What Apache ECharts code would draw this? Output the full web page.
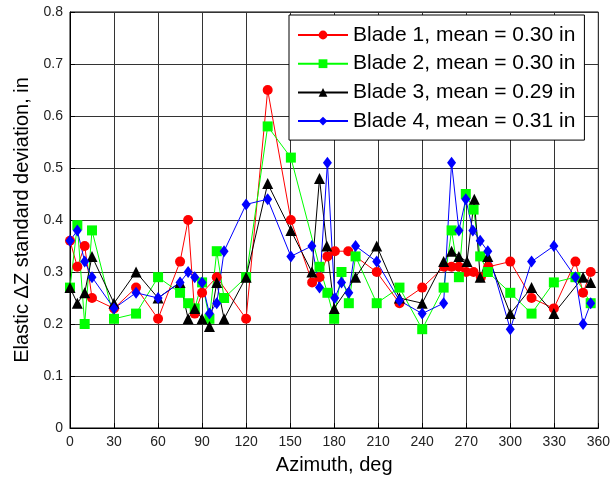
<!DOCTYPE html>
<html>
<head>
<meta charset="utf-8">
<script src="https://cdn.jsdelivr.net/npm/echarts@6/dist/echarts.min.js"></script>
<style>html,body{margin:0;padding:0;background:#fff}#c{width:613px;height:480px}</style>
</head>
<body>
<div id="c"></div>
<script>
var blade1Az  = [0,5,10,15,30,45,60,75,80.5,85,90,100,120,134.7,150.5,165,170,175.4,180.5,189.6,209,224.5,240,255,260,265,270,275,280,285,300,314.5,329.7,344.4,349.6,354.8];
var blade1Val = [0.36,0.31,0.35,0.25,0.23,0.27,0.21,0.32,0.40,0.22,0.26,0.29,0.21,0.65,0.40,0.28,0.29,0.33,0.34,0.34,0.30,0.24,0.27,0.31,0.31,0.31,0.30,0.30,0.29,0.31,0.32,0.25,0.23,0.32,0.26,0.30];

var blade2Az  = [0,5,10,15,30,45,60,75,80.5,85,90,95,100,105,120,134.7,150.5,170,175.4,180,185,190,194.6,209,224.5,240,254.6,260,265,269.7,275,279.5,284.7,300,314.5,329.7,344.4,354.8];
var blade2Val = [0.27,0.39,0.20,0.38,0.21,0.22,0.29,0.26,0.24,0.23,0.28,0.21,0.34,0.25,0.29,0.58,0.52,0.31,0.26,0.21,0.30,0.24,0.33,0.24,0.27,0.19,0.27,0.38,0.29,0.45,0.42,0.33,0.30,0.26,0.22,0.28,0.29,0.24];

var blade3Az  = [0,5,10,15,30,45,60,75,80.5,85,90,95,100,105,120,134.7,150.5,164.8,170,175,180,194.6,209,224.5,240,254.6,260,265,270.5,275.5,279.5,284.7,300,314.5,329.7,349.6,354.8];
var blade3Val = [0.27,0.24,0.26,0.33,0.24,0.30,0.25,0.28,0.21,0.23,0.21,0.195,0.28,0.21,0.29,0.47,0.38,0.30,0.48,0.35,0.23,0.29,0.35,0.25,0.24,0.32,0.34,0.33,0.32,0.44,0.29,0.33,0.22,0.27,0.22,0.29,0.28];

var blade4Az  = [0,5,10,15,30,45,60,75,80.5,85,90,95,100,105,120,134.7,150.5,164.8,170,175.4,180.4,185,190,194.6,209,224.5,240,254.6,260,265,269.7,274.5,279.5,284.7,300,314.5,329.7,344.4,349.6,354.8];
var blade4Val = [0.36,0.38,0.32,0.29,0.23,0.26,0.25,0.28,0.30,0.29,0.28,0.22,0.24,0.34,0.43,0.44,0.33,0.35,0.27,0.51,0.25,0.28,0.26,0.35,0.32,0.245,0.22,0.24,0.51,0.38,0.44,0.38,0.36,0.34,0.19,0.32,0.35,0.29,0.20,0.24];

var seriesNames = ['Blade 1, mean = 0.30 in','Blade 2, mean = 0.30 in','Blade 3, mean = 0.29 in','Blade 4, mean = 0.31 in'];
var xTicks = [0,30,60,90,120,150,180,210,240,270,300,330,360];
var yTickLabels = ['0','0.1','0.2','0.3','0.4','0.5','0.6','0.7','0.8'];

function zip(a, b) { return a.map(function (v, i) { return [v, b[i]]; }); }

var FONT = '"Liberation Sans", Arial, sans-serif';
var chart = echarts.init(document.getElementById('c'), null, {renderer: 'canvas'});

function mk(name, az, val, color, symbol, size) {
  return {
    name: name, type: 'line', data: zip(az, val),
    symbol: symbol, symbolSize: size, showSymbol: true,
    lineStyle: {color: color, width: 1},
    itemStyle: {color: color, borderColor: color, borderWidth: 0},
    emphasis: {disabled: true},
    animation: false
  };
}

chart.setOption({
  backgroundColor: '#fff',
  animation: false,
  textStyle: {fontFamily: FONT},
  grid: {left: 70, right: 13, top: 12, bottom: 49.5, show: true, borderColor: '#000', borderWidth: 1, backgroundColor: '#fff'},
  legend: {
    orient: 'vertical', left: 289, top: 15,
    padding: [9, 9, 8, 8], itemGap: 6.7, itemWidth: 50, itemHeight: 11,
    backgroundColor: '#fff', borderColor: '#000', borderWidth: 1,
    textStyle: {fontSize: 21, color: '#000', fontFamily: FONT, lineHeight: 22},
    data: seriesNames
  },
  xAxis: {
    type: 'value', min: 0, max: 360, interval: 30,
    name: 'Azimuth, deg', nameLocation: 'middle', nameGap: 27,
    nameTextStyle: {fontSize: 20, color: '#000', fontFamily: FONT},
    axisLine: {show: true, lineStyle: {color: '#000', width: 1}},
    axisTick: {show: true, inside: true, length: 5, lineStyle: {color: '#000'}},
    axisLabel: {fontSize: 14, color: '#222', margin: 7, fontFamily: FONT,
      formatter: function (v) { return xTicks.indexOf(v) >= 0 ? String(v) : ''; }},
    splitLine: {show: true, lineStyle: {color: '#333', width: 1}}
  },
  yAxis: {
    type: 'value', min: 0, max: 0.8, interval: 0.1,
    name: 'Elastic \u0394Z standard deviation, in', nameLocation: 'middle', nameGap: 27, nameRotate: 90,
    nameTextStyle: {fontSize: 20, color: '#000', fontFamily: FONT},
    axisLine: {show: true, lineStyle: {color: '#000', width: 1}},
    axisTick: {show: true, inside: true, length: 5, lineStyle: {color: '#000'}},
    axisLabel: {fontSize: 14, color: '#222', margin: 7, fontFamily: FONT,
      formatter: function (v) { return yTickLabels[Math.round(v * 10)]; }},
    splitLine: {show: true, lineStyle: {color: '#333', width: 1}}
  },
  series: [
    mk(seriesNames[0], blade1Az, blade1Val, '#ff0000', 'circle', 10),
    mk(seriesNames[1], blade2Az, blade2Val, '#00ff00', 'rect', 10),
    mk(seriesNames[2], blade3Az, blade3Val, '#000000', 'triangle', 11),
    mk(seriesNames[3], blade4Az, blade4Val, '#0000ff', 'diamond', [9, 12])
  ]
});
</script>
</body>
</html>
